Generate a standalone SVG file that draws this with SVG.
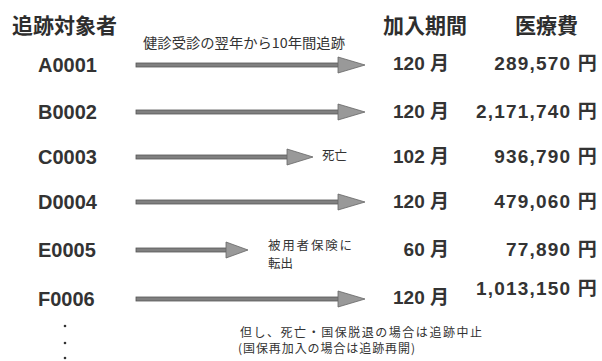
<svg xmlns="http://www.w3.org/2000/svg" width="602" height="361" viewBox="0 0 602 361">
<style>
.hd{font-family:"Noto Sans CJK JP","Liberation Sans",sans-serif;font-size:21px;font-weight:bold;fill:#2e2e2e}
.id{font-family:"Liberation Sans","Noto Sans CJK JP",sans-serif;font-size:20px;font-weight:bold;fill:#333}
.mo{font-family:"Liberation Sans","Noto Sans CJK JP",sans-serif;font-size:19px;font-weight:bold;fill:#333;text-anchor:end}
.co{font-family:"Liberation Sans","Noto Sans CJK JP",sans-serif;font-size:19px;font-weight:bold;fill:#333;text-anchor:end;letter-spacing:1.2px}
.sm{font-family:"Noto Sans CJK JP","Liberation Sans",sans-serif;font-size:12.5px;fill:#333}
.nt{font-family:"Noto Sans CJK JP","Liberation Sans",sans-serif;font-size:12px;fill:#333}
.shaft{fill:#808080;stroke:#555;stroke-width:0.8}
.head{fill:#999;stroke:#666;stroke-width:0.8}
</style>
<rect width="602" height="361" fill="#fff"/>
<g id="headers">
<text class="hd" x="12" y="33">追跡対象者</text>
<text class="hd" x="383" y="33">加入期間</text>
<text class="hd" x="515" y="33">医療費</text>
<text class="sm" x="143" y="48" textLength="202" lengthAdjust="spacingAndGlyphs" style="font-size:13.5px">健診受診の翌年から10年間追跡</text>
</g>
<g id="A0001">
<text class="id" x="38" y="72">A0001</text>
<text class="mo" x="449" y="70">120 月</text>
<text class="co" x="598" y="70">289,570 円</text>
</g>
<g id="B0002">
<text class="id" x="38" y="119">B0002</text>
<text class="mo" x="449" y="118">120 月</text>
<text class="co" x="598" y="118">2,171,740 円</text>
</g>
<g id="C0003">
<text class="id" x="38" y="164">C0003</text>
<text class="mo" x="449" y="163">102 月</text>
<text class="co" x="598" y="163">936,790 円</text>
<text class="sm" x="322" y="160">死亡</text>
</g>
<g id="D0004">
<text class="id" x="38" y="209">D0004</text>
<text class="mo" x="449" y="208">120 月</text>
<text class="co" x="598" y="208">479,060 円</text>
</g>
<g id="E0005">
<text class="id" x="38" y="257">E0005</text>
<text class="mo" x="449" y="256">60 月</text>
<text class="co" x="598" y="256">77,890 円</text>
<text class="sm" x="268" y="250" textLength="84" lengthAdjust="spacing">被用者保険に</text>
<text class="sm" x="268" y="268">転出</text>
</g>
<g id="F0006">
<text class="id" x="38" y="306">F0006</text>
<text class="mo" x="449" y="304">120 月</text>
<text class="co" x="598" y="295">1,013,150 円</text>
</g>
<g id="notes">
<circle cx="65" cy="326" r="1.3" fill="#333"/>
<circle cx="65" cy="343" r="1.3" fill="#333"/>
<circle cx="65" cy="358" r="1.3" fill="#333"/>
<text class="nt" x="240" y="337" textLength="242" lengthAdjust="spacing">但し、死亡・国保脱退の場合は追跡中止</text>
<text class="nt" x="238" y="353" textLength="177" lengthAdjust="spacing">(国保再加入の場合は追跡再開)</text>
</g>
<g id="connectors">
<rect class="shaft" x="136" y="63" width="203" height="4"/>
<polygon class="head" points="338,57 365,65 338,73"/>
<rect class="shaft" x="136" y="110" width="203" height="4"/>
<polygon class="head" points="338,104 365,112 338,120"/>
<rect class="shaft" x="136" y="155" width="152" height="4"/>
<polygon class="head" points="287,149 313,157 287,165"/>
<rect class="shaft" x="136" y="200" width="203" height="4"/>
<polygon class="head" points="338,194 365,202 338,210"/>
<rect class="shaft" x="136" y="248" width="91" height="4"/>
<polygon class="head" points="226,242 248,250 226,258"/>
<rect class="shaft" x="136" y="297" width="203" height="4"/>
<polygon class="head" points="338,291 365,299 338,307"/>
</g>
</svg>
